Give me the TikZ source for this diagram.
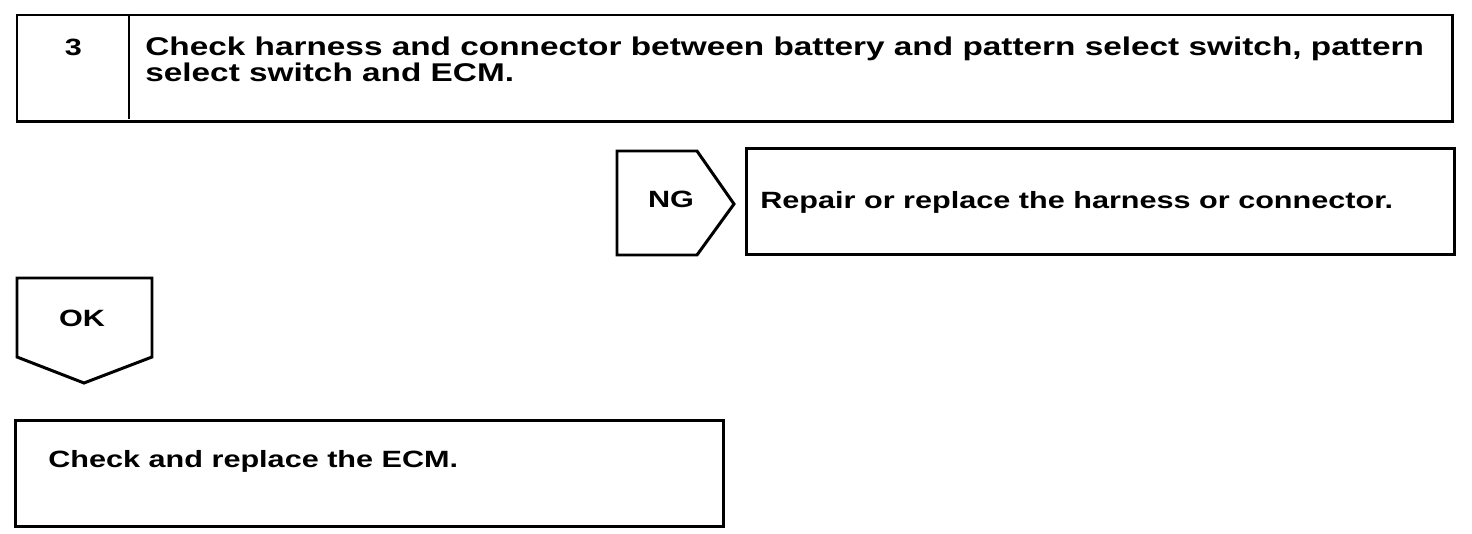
\documentclass[tikz,border=0pt]{standalone}
\usepackage{fontspec}
\setmainfont{Liberation Sans}
\newfontfamily\flowfont[FakeStretch=1.3]{Liberation Sans}
\usetikzlibrary{positioning}

\tikzset{
  frame/.style={draw,line width=1.7pt,inner sep=0pt,anchor=north west},
  txt/.style={inner sep=0pt,anchor=base west,font=\flowfont\bfseries\fontsize{13.4}{16}\selectfont},
  head/.style={txt,text height=10pt,text depth=1pt,font=\flowfont\bfseries\fontsize{14.6}{16}\selectfont},
  tag/.style={inner sep=0pt,font=\flowfont\bfseries\fontsize{13.4}{16}\selectfont}
}

\begin{document}
\begin{tikzpicture}[x=0.02cm,y=-0.02cm]
    \useasboundingbox (0,0) rectangle (1472,534);
    % step header
    \node[frame,minimum width=28.72cm,minimum height=2.14cm] at (15.5,13.5) (step) {};
    \draw[line width=1.7pt] (129,13.5) -- (129,119);
    \node[tag] at (73.5,47) (num) {3};
    \node[head] at (145,55.5) (title) {Check harness and connector between battery and pattern select switch, pattern};
    \node[head] at (145,81) (title2) {select switch and ECM.};
    % NG branch
    \draw[line width=1.7pt] (617,151) -- (697,151) -- (734,204) -- (697,255) -- (617,255) -- cycle;
    \node[tag] at (671,199) (ng) {NG};
    \node[frame,minimum width=14.16cm,minimum height=2.12cm] at (745,147) (repair) {};
    \node[txt] at (760,208) (repairtxt) {Repair or replace the harness or connector.};
    % OK branch
    \draw[line width=1.7pt] (17,278) -- (152,278) -- (152,357) -- (84,383) -- (17,357) -- cycle;
    \node[tag] at (82,318) (ok) {OK};
    \node[frame,minimum width=14.16cm,minimum height=2.12cm] at (14,419) (ecm) {};
    \node[txt] at (48,467) (ecmtxt) {Check and replace the ECM.};
\end{tikzpicture}
\end{document}
